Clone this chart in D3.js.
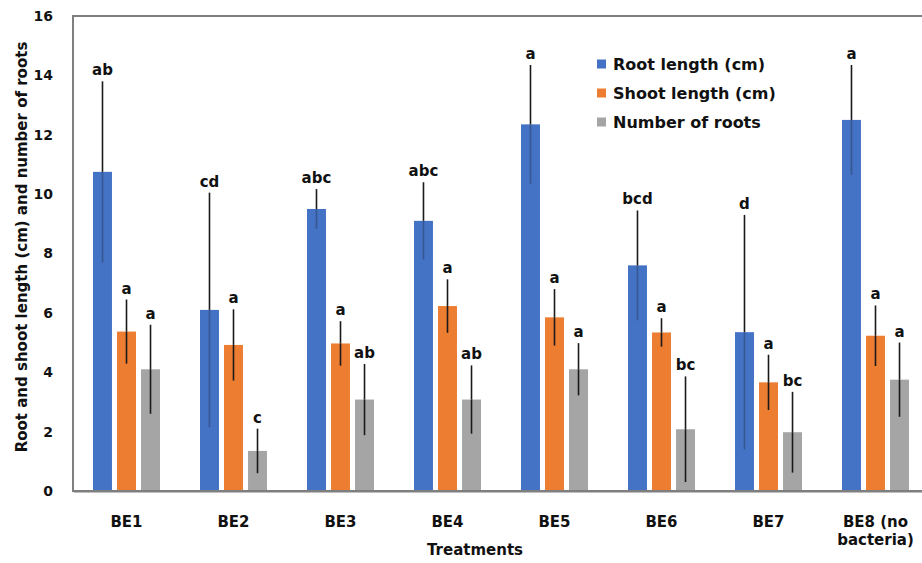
<!DOCTYPE html>
<html>
<head>
<meta charset="utf-8">
<script src="https://cdn.jsdelivr.net/npm/d3@7"></script>
<style>
  body { margin: 0; background: #fff; }
  svg { display: block; font-family: "DejaVu Sans", Verdana, sans-serif; font-weight: bold; }
</style>
</head>
<body>
<div id="chart"></div>
<script>
const categories = ["BE1", "BE2", "BE3", "BE4", "BE5", "BE6", "BE7", "BE8 (no bacteria)"]
const tickLabels = [["BE1"], ["BE2"], ["BE3"], ["BE4"], ["BE5"], ["BE6"], ["BE7"], ["BE8 (no", "bacteria)"]]
const seriesNames = ["Root length (cm)", "Shoot length (cm)", "Number of roots"]

const rootLength = [10.75, 6.1, 9.5, 9.1, 12.35, 7.6, 5.35, 12.5]
const rootSd = [3.05, 3.95, 0.67, 1.3, 2.0, 1.85, 3.95, 1.85]
const rootLetters = ["ab", "cd", "abc", "abc", "a", "bcd", "d", "a"]

const shootLength = [5.37, 4.92, 4.97, 6.23, 5.85, 5.34, 3.66, 5.23]
const shootSd = [1.08, 1.2, 0.75, 0.9, 0.95, 0.48, 0.93, 1.02]
const shootLetters = ["a", "a", "a", "a", "a", "a", "a", "a"]

const rootCount = [4.1, 1.35, 3.08, 3.08, 4.1, 2.08, 1.98, 3.75]
const rootCountSd = [1.5, 0.75, 1.2, 1.15, 0.88, 1.78, 1.36, 1.25]
const rootCountLetters = ["a", "c", "ab", "ab", "a", "bc", "bc", "a"]

const yTicks = [0, 2, 4, 6, 8, 10, 12, 14, 16]

const colors = ["#4472C4", "#ED7D31", "#A5A5A5"]

const series = [
    { name: seriesNames[0], means: rootLength, sds: rootSd, letters: rootLetters },
    { name: seriesNames[1], means: shootLength, sds: shootSd, letters: shootLetters },
    { name: seriesNames[2], means: rootCount, sds: rootCountSd, letters: rootCountLetters }
]

const W = 922, H = 563
const margin = { top: 16, left: 73, bottom: 72 }
const plotRight = 929
const plotBottom = H - margin.bottom

const svg = d3.select('#chart').append('svg')
    .attr('width', W)
    .attr('height', H)

const x = d3.scaleBand()
    .domain(categories)
    .range([margin.left, plotRight])

const xInner = d3.scaleBand()
    .domain(seriesNames)
    .range([20, x.bandwidth() - 20])
    .paddingInner(0.21)

const y = d3.scaleLinear()
    .domain([0, 16])
    .range([plotBottom, margin.top])

const color = d3.scaleOrdinal().domain(seriesNames).range(colors)

// flatten to one record per bar
const bars = []
series.forEach(s => {
    categories.forEach((c, i) => {
        bars.push({ series: s.name, cat: c, mean: s.means[i], sd: s.sds[i], letter: s.letters[i] })
    })
})

const cx = d => x(d.cat) + xInner(d.series) + xInner.bandwidth() / 2

svg.append('g').selectAll('rect')
    .data(bars)
    .enter()
    .append('rect')
    .attr('x', d => x(d.cat) + xInner(d.series))
    .attr('width', xInner.bandwidth())
    .attr('y', d => y(d.mean))
    .attr('height', d => y(0) - y(d.mean))
    .style('fill', d => color(d.series))

// error bars, no caps
const err = svg.append('g')
err.selectAll('line.up')
    .data(bars)
    .enter()
    .append('line')
    .attr('class', 'up')
    .attr('x1', cx).attr('x2', cx)
    .attr('y1', d => y(d.mean))
    .attr('y2', d => y(d.mean + d.sd))
    .attr('stroke', '#1a1a1a')
    .attr('stroke-width', 1.6)
err.selectAll('line.down')
    .data(bars)
    .enter()
    .append('line')
    .attr('class', 'down')
    .attr('x1', cx).attr('x2', cx)
    .attr('y1', d => y(d.mean))
    .attr('y2', d => y(Math.max(0, d.mean - d.sd)))
    .attr('stroke', '#1a1a1a')
    .attr('stroke-width', 1.6)
    .attr('stroke-opacity', d => d.series === seriesNames[0] ? 0.3 : 1)

svg.append('g').selectAll('text')
    .data(bars)
    .enter()
    .append('text')
    .attr('x', cx)
    .attr('y', d => y(d.mean + d.sd) - 6)
    .attr('text-anchor', 'middle')
    .style('font-size', '15px')
    .style('fill', '#111')
    .text(d => d.letter)

// plot frame
svg.append('rect')
    .attr('x', margin.left)
    .attr('y', margin.top)
    .attr('width', plotRight - margin.left)
    .attr('height', plotBottom - margin.top)
    .attr('fill', 'none')
    .attr('stroke', '#7f7f7f')
    .attr('stroke-width', 2)

const yAxis = svg.append('g')
    .attr('transform', 'translate(' + margin.left + ',0)')
    .call(d3.axisLeft(y).tickValues(yTicks).tickSize(0).tickPadding(20))
yAxis.select('.domain').remove()
yAxis.selectAll('text')
    .style('font-family', '"DejaVu Sans", Verdana, sans-serif')
    .style('font-weight', 'bold')
    .style('font-size', '14px')
    .style('fill', '#111')

const xAxis = svg.append('g')
    .attr('transform', 'translate(0,' + plotBottom + ')')
    .call(d3.axisBottom(x).tickSize(0).tickPadding(0))
xAxis.select('.domain').attr('stroke', '#7f7f7f').attr('stroke-width', 2)
xAxis.selectAll('.tick text')
    .style('font-family', '"DejaVu Sans", Verdana, sans-serif')
    .style('font-weight', 'bold')
    .style('font-size', '15px')
    .style('fill', '#111')
    .attr('y', 0)
    .attr('dy', null)
    .text(null)
    .each(function (d, i) {
        const t = d3.select(this)
        tickLabels[i].forEach((line, j) => {
            t.append('tspan')
                .attr('x', 0)
                .attr('y', 36 + j * 18)
                .text(line)
        })
    })

svg.append('text')
    .attr('x', 475)
    .attr('y', 555)
    .attr('text-anchor', 'middle')
    .style('font-size', '15px')
    .style('fill', '#111')
    .text('Treatments')

svg.append('text')
    .attr('transform', 'translate(27,' + 247 + ') rotate(-90)')
    .attr('text-anchor', 'middle')
    .style('font-size', '15px')
    .style('fill', '#111')
    .text('Root and shoot length (cm) and number of roots')

const legend = svg.append('g')
    .attr('transform', 'translate(597,64)')
const item = legend.selectAll('g')
    .data(seriesNames)
    .enter()
    .append('g')
    .attr('transform', (_, i) => 'translate(0,' + i * 29 + ')')
item.append('rect')
    .attr('x', 0).attr('y', -4.5)
    .attr('width', 9).attr('height', 9)
    .style('fill', d => color(d))
item.append('text')
    .attr('x', 16)
    .attr('y', 0)
    .attr('dy', '0.35em')
    .style('font-size', '16px')
    .style('fill', '#111')
    .text(d => d)
</script>
</body>
</html>
